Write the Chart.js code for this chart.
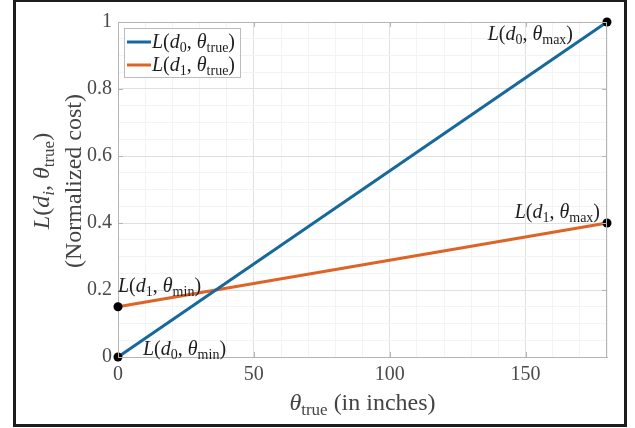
<!DOCTYPE html>
<html>
<head>
<meta charset="utf-8">
<script src="https://cdn.jsdelivr.net/npm/chart.js@4/dist/chart.umd.min.js"></script>
<style>
  html, body { margin: 0; padding: 0; background: #fff; }
  canvas { display: block; }
</style>
</head>
<body>
<canvas id="costChart" width="635" height="428"></canvas>
<script>
// data
const thetaTrue = [0, 180];
const costD0 = [0, 1];
const costD1 = [0.15, 0.4];
const xMajorTicks = [0, 50, 100, 150];
const yMajorTicks = [0, 0.2, 0.4, 0.6, 0.8, 1];

const SERIF = '"Liberation Serif", "DejaVu Serif", serif';
const BLUE = '#17689b';
const ORANGE = '#de6326';

// rich text: parts = [[text, kind]] kind: i=italic, n=normal, s=subscript
function richWidth(ctx, parts, size) {
    let w = 0;
    parts.forEach(p => {
        ctx.font = fontFor(p[1], size);
        w += ctx.measureText(p[0]).width;
    });
    return w;
}
function fontFor(kind, size) {
    if (kind === 'i') return `italic ${size}px ${SERIF}`;
    if (kind === 's') return `${Math.round(size * 0.7)}px ${SERIF}`;
    if (kind === 'si') return `italic ${Math.round(size * 0.7)}px ${SERIF}`;
    return `${size}px ${SERIF}`;
}
function drawRich(ctx, parts, x, baseline, size, color, align) {
    let w = richWidth(ctx, parts, size);
    let cx = x;
    if (align === 'right') cx = x - w;
    if (align === 'center') cx = x - w / 2;
    ctx.fillStyle = color;
    ctx.textAlign = 'left';
    ctx.textBaseline = 'alphabetic';
    parts.forEach(p => {
        ctx.font = fontFor(p[1], size);
        let dy = (p[1] === 's' || p[1] === 'si') ? size * 0.22 : 0;
        ctx.fillText(p[0], cx, baseline + dy);
        cx += ctx.measureText(p[0]).width;
    });
}
function lossLabel(d, theta) {
    return [['L', 'i'], ['(', 'n'], ['d', 'i'], [d, d === 'i' ? 'si' : 's'], [', ', 'n'], ['θ', 'i'], [theta, 's'], [')', 'n']];
}

const decorPlugin = {
    id: 'decor',
    beforeDraw(chart) {
        const ctx = chart.ctx;
        ctx.save();
        ctx.fillStyle = '#fff';
        ctx.fillRect(0, 0, chart.width, chart.height);
        ctx.restore();
    },
    afterDatasetsDraw(chart) {
        const ctx = chart.ctx;
        const xs = chart.scales.x, ys = chart.scales.y;
        const a = chart.chartArea;
        ctx.save();

        // box + inner ticks
        ctx.strokeStyle = '#b4b4b4';
        ctx.lineWidth = 1;
        ctx.beginPath();
        ctx.moveTo(a.left, a.top + 0.5); ctx.lineTo(a.right, a.top + 0.5);
        ctx.moveTo(a.right - 0.5, a.top); ctx.lineTo(a.right - 0.5, a.bottom);
        xMajorTicks.forEach(v => {
            let px = Math.round(xs.getPixelForValue(v)) + 0.5;
            ctx.moveTo(px, a.bottom); ctx.lineTo(px, a.bottom - 5);
            ctx.moveTo(px, a.top); ctx.lineTo(px, a.top + 5);
        });
        yMajorTicks.forEach(v => {
            let py = Math.round(ys.getPixelForValue(v)) + 0.5;
            ctx.moveTo(a.left, py); ctx.lineTo(a.left + 5, py);
            ctx.moveTo(a.right, py); ctx.lineTo(a.right - 5, py);
        });
        ctx.stroke();

        // point annotations
        const n = thetaTrue.length - 1;
        const txt = '#1e1e1e';
        let p;
        p = [xs.getPixelForValue(thetaTrue[n]), ys.getPixelForValue(costD0[n])];
        drawRich(ctx, lossLabel('0', 'max'), p[0] - 34, p[1] + 18, 20, txt, 'right');
        p = [xs.getPixelForValue(thetaTrue[n]), ys.getPixelForValue(costD1[n])];
        drawRich(ctx, lossLabel('1', 'max'), p[0] - 7, p[1] - 5, 20, txt, 'right');
        p = [xs.getPixelForValue(thetaTrue[0]), ys.getPixelForValue(costD1[0])];
        drawRich(ctx, lossLabel('1', 'min'), p[0], p[1] - 15, 20, txt, 'left');
        p = [xs.getPixelForValue(thetaTrue[0]), ys.getPixelForValue(costD0[0])];
        drawRich(ctx, lossLabel('0', 'min'), p[0] + 25, p[1] - 2, 20, txt, 'left');

        // legend
        ctx.fillStyle = '#fff';
        ctx.fillRect(124.5, 28.5, 116, 49);
        ctx.strokeStyle = '#bcbcbc';
        ctx.lineWidth = 1;
        ctx.strokeRect(124.5, 28.5, 116, 49);
        [[BLUE, '0', 42], [ORANGE, '1', 65]].forEach(r => {
            ctx.strokeStyle = r[0];
            ctx.lineWidth = 3;
            ctx.beginPath();
            ctx.moveTo(127, r[2]); ctx.lineTo(151, r[2]);
            ctx.stroke();
            drawRich(ctx, lossLabel(r[1], 'true'), 152, r[2] + 6, 20, '#1e1e1e', 'left');
        });

        // axis titles
        drawRich(ctx, [['θ', 'i'], ['true', 's'], [' (in inches)', 'n']], (a.left + a.right) / 2, 410, 24, '#444', 'center');
        ctx.save();
        ctx.translate(49, 181);
        ctx.rotate(-Math.PI / 2);
        drawRich(ctx, lossLabel('i', 'true'), 0, 0, 24, '#444', 'center');
        ctx.restore();
        ctx.save();
        ctx.translate(81, 181);
        ctx.rotate(-Math.PI / 2);
        drawRich(ctx, [['(Normalized cost)', 'n']], 0, 0, 24, '#444', 'center');
        ctx.restore();

        // outer frame
        ctx.strokeStyle = '#1c1c1c';
        ctx.lineWidth = 3;
        ctx.strokeRect(14.5, 0.5, 611, 425);
        ctx.restore();
    }
};

const ctxCost = document.getElementById('costChart').getContext('2d');

let costChart = new Chart(ctxCost, {
    type: 'line',
    data: {
        datasets: [
            {
                label: 'L(d0, θtrue)',
                data: thetaTrue.map((t, i) => ({ x: t, y: costD0[i] })),
                borderColor: BLUE, borderWidth: 3,
                pointRadius: 4.5, pointBackgroundColor: '#000', pointBorderColor: '#000', pointBorderWidth: 0,
                clip: false, order: 0
            },
            {
                label: 'L(d1, θtrue)',
                data: thetaTrue.map((t, i) => ({ x: t, y: costD1[i] })),
                borderColor: ORANGE, borderWidth: 3,
                pointRadius: 4.5, pointBackgroundColor: '#000', pointBorderColor: '#000', pointBorderWidth: 0,
                clip: false, order: 1
            }
        ]
    },
    options: {
        responsive: false,
        animation: false,
        devicePixelRatio: 1,
        layout: { padding: { left: 0, right: 28, top: 22, bottom: 0 } },
        plugins: { legend: { display: false }, tooltip: { enabled: false } },
        scales: {
            x: {
                type: 'linear', min: 0, max: 180,
                ticks: {
                    stepSize: 10, autoSkip: false, maxRotation: 0, padding: 6,
                    color: '#4a4a4a', font: { family: SERIF, size: 20 },
                    callback: v => (xMajorTicks.includes(v) ? String(v) : '')
                },
                grid: {
                    drawTicks: false,
                    color: c => (c.tick && xMajorTicks.includes(c.tick.value) ? '#e0e0e0' : '#f3f3f3')
                },
                border: { color: '#b4b4b4' },
                afterFit: s => { s.height = 71; }
            },
            y: {
                min: 0, max: 1,
                ticks: {
                    stepSize: 0.05, autoSkip: false, padding: 6,
                    color: '#4a4a4a', font: { family: SERIF, size: 20 },
                    callback: v => (Math.round(v * 100) % 20 === 0 ? String(Math.round(v * 10) / 10) : '')
                },
                grid: {
                    drawTicks: false,
                    color: c => (c.tick && Math.round(c.tick.value * 100) % 20 === 0 ? '#e0e0e0' : '#f3f3f3')
                },
                border: { color: '#b4b4b4' },
                afterFit: s => { s.width = 118; }
            }
        }
    },
    plugins: [decorPlugin]
});
</script>
</body>
</html>
